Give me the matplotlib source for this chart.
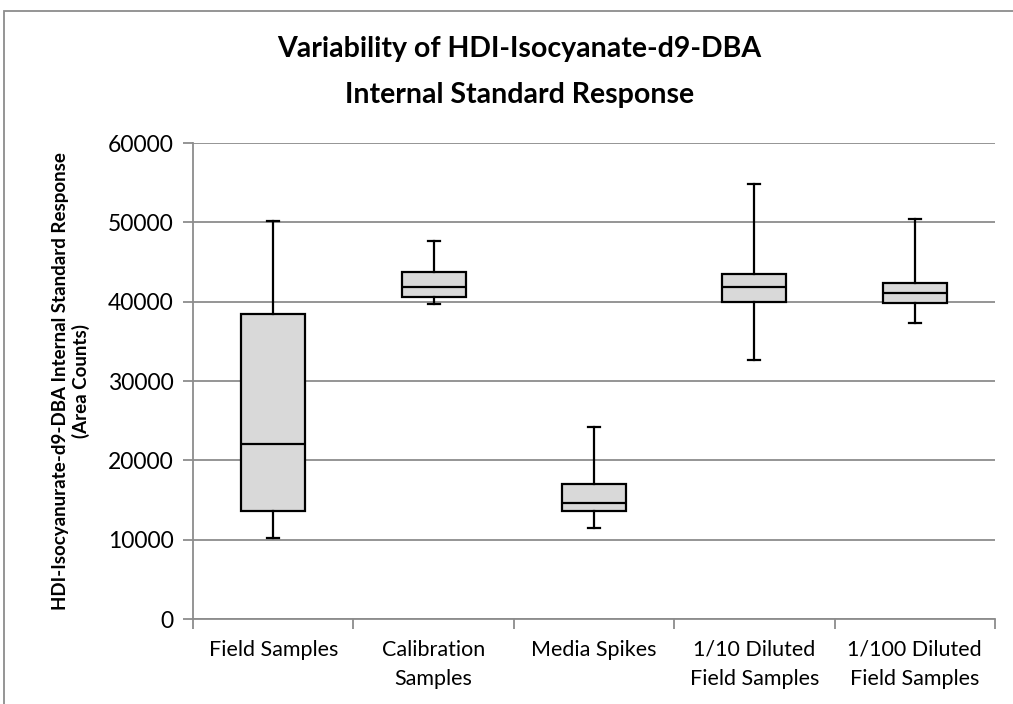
import matplotlib
matplotlib.use("Agg")
import matplotlib.pyplot as plt
from matplotlib.patches import Rectangle

# box plot statistics (area counts)
categories = ["Field Samples", "Calibration\nSamples", "Media Spikes",
              "1/10 Diluted\nField Samples", "1/100 Diluted\nField Samples"]
whisker_low = [10200, 39700, 11450, 32650, 37250]
q1 = [13600, 40600, 13600, 39900, 39850]
medians = [22100, 41850, 14650, 41800, 41100]
q3 = [38400, 43800, 17050, 43450, 42300]
whisker_high = [50200, 47650, 24200, 54800, 50400]

y_ticks = [0, 10000, 20000, 30000, 40000, 50000, 60000]

plt.rcParams["font.family"] = ["Lato", "DejaVu Sans"]

fig = plt.figure(figsize=(10.13, 7.04), dpi=100)
ax = fig.add_axes([193/1013, 1-619/704, (995-193)/1013, (619-143)/704])

stats = []
for i in range(len(categories)):
    stats.append(dict(whislo=whisker_low[i], q1=q1[i], med=medians[i],
                      q3=q3[i], whishi=whisker_high[i], fliers=[]))

pos = list(range(1, len(categories)+1))
ax.bxp(stats, positions=pos, widths=0.4, patch_artist=True, showfliers=False,
       boxprops=dict(facecolor="#d9d9d9", edgecolor="black", linewidth=1.6),
       medianprops=dict(color="black", linewidth=1.6),
       whiskerprops=dict(color="black", linewidth=1.6),
       capprops=dict(color="black", linewidth=1.6), capwidths=0.075,
       zorder=3)

ax.set_xlim(0.5, len(categories)+0.5)
ax.set_ylim(0, 60000)
ax.set_yticks(y_ticks)
ax.set_yticklabels([str(v) for v in y_ticks], fontsize=16.5)
ax.yaxis.grid(True, color="#8c8c8c", linewidth=1.3)
ax.set_axisbelow(True)

# category labels between boundary ticks
ax.set_xticks([p + 0.5 for p in [0] + pos], minor=False)
ax.set_xticklabels([])
ax.set_xticks(pos, minor=True)
ax.set_xticklabels(categories, minor=True, fontsize=15.5, linespacing=1.6, va="top")
ax.tick_params(axis="x", which="minor", length=0, pad=15)
ax.tick_params(axis="x", which="major", length=7, color="#8c8c8c", width=1.3)
ax.tick_params(axis="y", length=7, color="#8c8c8c", width=1.3, pad=7)

for s in ["top", "right"]:
    ax.spines[s].set_visible(False)
for s in ["left", "bottom"]:
    ax.spines[s].set_color("#8c8c8c")
    ax.spines[s].set_linewidth(1.3)

ax.set_ylabel("HDI-Isocyanurate-d9-DBA Internal Standard Response\n(Area Counts)",
              fontsize=13.5, fontweight="bold", linespacing=1.2, labelpad=13)

fig.text(0.513, 1-72/704, "Variability of HDI-Isocyanate-d9-DBA\nInternal Standard Response",
         ha="center", va="center", fontsize=20.5, fontweight="bold", linespacing=1.95)

# chart border
fig.patches.append(Rectangle((4/1013, -0.05), 1.1, 1-11/704+0.05, transform=fig.transFigure,
                             fill=False, edgecolor="#8c8c8c", linewidth=1.3))

fig.savefig("out.png", dpi=100)
